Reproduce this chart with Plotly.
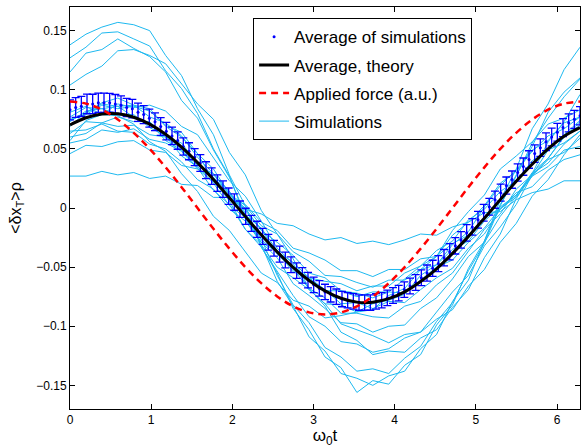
import numpy as np
import plotly.graph_objects as go

# ---------------- data ----------------
t_grid = np.linspace(0, 2 * np.pi, 33)      # sampling of simulations / theory / force
t_avg = np.linspace(0, 2 * np.pi, 91)       # sampling of the averaged simulations

theory = [0.0702, 0.0763, 0.0795, 0.0797, 0.0768, 0.0709, 0.0623, 0.0514, 0.0384, 0.0241, 0.0086,
          -0.0071, -0.0226, -0.0371, -0.0502, -0.0613, -0.0701, -0.0763, -0.0796, -0.0797, -0.0767,
          -0.0709, -0.0622, -0.0514, -0.0384, -0.0240, -0.0086, 0.0071, 0.0226, 0.0370, 0.0500,
          0.0607, 0.0680]

force = [0.0900, 0.0883, 0.0832, 0.0748, 0.0636, 0.0500, 0.0344, 0.0176, 0.0000, -0.0176, -0.0344,
         -0.0500, -0.0636, -0.0748, -0.0832, -0.0883, -0.0900, -0.0883, -0.0832, -0.0748, -0.0636,
         -0.0500, -0.0344, -0.0176, 0.0000, 0.0176, 0.0344, 0.0500, 0.0636, 0.0748, 0.0832, 0.0883,
         0.0900]

avg_sim = [0.083, 0.085, 0.086, 0.088, 0.088, 0.089, 0.089, 0.089, 0.088, 0.087,
           0.085, 0.084, 0.081, 0.079, 0.076, 0.073, 0.069, 0.065, 0.061, 0.057,
           0.052, 0.048, 0.043, 0.038, 0.032, 0.027, 0.021, 0.016, 0.010, 0.005,
           -0.001, -0.007, -0.013, -0.018, -0.024, -0.029, -0.034, -0.039, -0.044, -0.048,
           -0.053, -0.057, -0.061, -0.065, -0.068, -0.071, -0.073, -0.075, -0.077, -0.078,
           -0.079, -0.080, -0.080, -0.080, -0.079, -0.078, -0.076, -0.074, -0.072, -0.069,
           -0.066, -0.063, -0.059, -0.055, -0.051, -0.047, -0.042, -0.037, -0.032, -0.027,
           -0.021, -0.016, -0.010, -0.004, 0.001, 0.007, 0.013, 0.019, 0.024, 0.030,
           0.035, 0.041, 0.046, 0.051, 0.056, 0.060, 0.064, 0.068, 0.072, 0.075, 0.078]

avg_err = [0.0085, 0.0084, 0.0084, 0.0083, 0.0082, 0.0082, 0.0081, 0.0080, 0.0080, 0.0079,
           0.0078, 0.0078, 0.0077, 0.0076, 0.0076, 0.0075, 0.0075, 0.0074, 0.0074, 0.0073,
           0.0073, 0.0072, 0.0072, 0.0071, 0.0071, 0.0070, 0.0070, 0.0070, 0.0069, 0.0069,
           0.0069, 0.0068, 0.0068, 0.0068, 0.0067, 0.0067, 0.0067, 0.0067, 0.0066, 0.0066,
           0.0066, 0.0066, 0.0066, 0.0065, 0.0065, 0.0065, 0.0065, 0.0065, 0.0065, 0.0065,
           0.0065, 0.0065, 0.0065, 0.0065, 0.0065, 0.0065, 0.0066, 0.0066, 0.0066, 0.0066,
           0.0067, 0.0067, 0.0067, 0.0068, 0.0068, 0.0068, 0.0069, 0.0069, 0.0069, 0.0070,
           0.0070, 0.0070, 0.0071, 0.0071, 0.0071, 0.0072, 0.0072, 0.0072, 0.0073, 0.0073,
           0.0073, 0.0074, 0.0074, 0.0074, 0.0075, 0.0075, 0.0075, 0.0076, 0.0076, 0.0076, 0.0077]

sim01 = [0.138, 0.147, 0.153, 0.157, 0.155, 0.150, 0.129, 0.112, 0.084, 0.062, 0.028, 0.002, -0.033,
         -0.055, -0.085, -0.103, -0.126, -0.135, -0.156, -0.146, -0.149, -0.133, -0.124, -0.099, -0.082,
         -0.051, -0.028, 0.007, 0.033, 0.067, 0.088, 0.117, 0.136]
sim02 = [0.127, 0.136, 0.148, 0.149, 0.143, 0.137, 0.116, 0.101, 0.080, 0.050, 0.027, -0.008, -0.031,
         -0.062, -0.083, -0.109, -0.121, -0.140, -0.144, -0.150, -0.142, -0.138, -0.119, -0.107, -0.079,
         -0.061, -0.028, 0.003, 0.027, 0.055, 0.076, 0.094, 0.109]
sim03 = [0.115, 0.131, 0.134, 0.143, 0.135, 0.128, 0.115, 0.091, 0.076, 0.049, 0.026, -0.005, -0.026,
         -0.057, -0.082, -0.097, -0.118, -0.126, -0.138, -0.136, -0.140, -0.127, -0.117, -0.096, -0.080,
         -0.053, -0.030, 0.002, 0.028, 0.052, 0.081, 0.098, 0.110]
sim04 = [0.104, 0.113, 0.120, 0.133, 0.134, 0.129, 0.122, 0.105, 0.088, 0.075, 0.047, 0.028, -0.002,
         -0.022, -0.043, -0.068, -0.083, -0.105, -0.112, -0.124, -0.121, -0.122, -0.110, -0.103, -0.084,
         -0.069, -0.042, -0.022, 0.008, 0.029, 0.056, 0.073, 0.096]
sim05 = [0.074, 0.080, 0.089, 0.093, 0.087, 0.084, 0.069, 0.060, 0.046, 0.023, 0.006, -0.018, -0.033,
         -0.053, -0.074, -0.092, -0.100, -0.113, -0.115, -0.122, -0.119, -0.110, -0.105, -0.088, -0.071,
         -0.057, -0.032, -0.016, 0.003, 0.028, 0.042, 0.061, 0.070]
sim06 = [0.057, 0.074, 0.079, 0.088, 0.085, 0.087, 0.082, 0.069, 0.062, 0.043, 0.023, 0.010, -0.011,
         -0.034, -0.047, -0.069, -0.081, -0.098, -0.103, -0.108, -0.114, -0.107, -0.105, -0.094, -0.086,
         -0.066, -0.052, -0.029, -0.013, 0.010, 0.024, 0.045, 0.062]
sim07 = [0.075, 0.079, 0.087, 0.084, 0.086, 0.082, 0.070, 0.064, 0.046, 0.033, 0.012, -0.002, -0.018,
         -0.039, -0.052, -0.068, -0.076, -0.089, -0.089, -0.092, -0.093, -0.083, -0.079, -0.065, -0.055,
         -0.036, -0.018, -0.005, 0.016, 0.028, 0.049, 0.062, 0.074]
sim08 = [0.077, 0.085, 0.084, 0.086, 0.077, 0.072, 0.057, 0.049, 0.034, 0.015, 0.003, -0.018, -0.031,
         -0.050, -0.059, -0.069, -0.081, -0.082, -0.088, -0.081, -0.078, -0.073, -0.057, -0.048, -0.031,
         -0.020, 0.001, 0.019, 0.032, 0.049, 0.057, 0.072, 0.077]
sim09 = [0.063, 0.073, 0.072, 0.077, 0.073, 0.073, 0.060, 0.055, 0.037, 0.028, 0.014, -0.006, -0.017,
         -0.036, -0.050, -0.059, -0.069, -0.081, -0.080, -0.085, -0.079, -0.080, -0.069, -0.059, -0.051,
         -0.034, -0.022, -0.001, 0.011, 0.029, 0.038, 0.054, 0.065]
sim10 = [0.073, 0.082, 0.084, 0.079, 0.079, 0.068, 0.061, 0.044, 0.035, 0.021, 0.002, -0.008, -0.027,
         -0.037, -0.054, -0.060, -0.070, -0.070, -0.075, -0.071, -0.071, -0.060, -0.049, -0.041, -0.023,
         -0.012, 0.002, 0.021, 0.031, 0.048, 0.061, 0.067, 0.077]
sim11 = [0.060, 0.063, 0.072, 0.069, 0.070, 0.062, 0.060, 0.050, 0.036, 0.029, 0.011, 0.000, -0.019,
         -0.029, -0.040, -0.055, -0.059, -0.070, -0.072, -0.076, -0.071, -0.072, -0.061, -0.050, -0.044,
         -0.029, -0.017, 0.000, 0.009, 0.027, 0.041, 0.047, 0.059]
sim12 = [0.081, 0.086, 0.079, 0.078, 0.071, 0.056, 0.048, 0.029, 0.014, -0.007, -0.019, -0.037, -0.055,
         -0.063, -0.078, -0.083, -0.093, -0.091, -0.088, -0.086, -0.074, -0.068, -0.052, -0.041, -0.019,
         -0.003, 0.011, 0.033, 0.044, 0.056, 0.071, 0.076, 0.083]
sim13 = [0.065, 0.066, 0.071, 0.065, 0.064, 0.054, 0.050, 0.039, 0.024, 0.016, -0.001, -0.011, -0.029,
         -0.037, -0.046, -0.059, -0.062, -0.064, -0.070, -0.066, -0.066, -0.055, -0.049, -0.036, -0.028,
         -0.010, -0.001, 0.014, 0.023, 0.040, 0.049, 0.055, 0.065]
sim14 = [0.069, 0.081, 0.088, 0.086, 0.087, 0.077, 0.072, 0.061, 0.043, 0.029, 0.014, -0.009, -0.029,
         -0.042, -0.064, -0.074, -0.085, -0.097, -0.098, -0.105, -0.100, -0.099, -0.085, -0.076, -0.060,
         -0.041, -0.029, -0.007, 0.010, 0.030, 0.042, 0.060, 0.073]
sim15 = [0.027, 0.027, 0.031, 0.028, 0.030, 0.025, 0.027, 0.020, 0.019, 0.009, 0.009, -0.001, -0.005,
         -0.013, -0.015, -0.022, -0.027, -0.025, -0.030, -0.028, -0.031, -0.027, -0.022, -0.023, -0.016,
         -0.012, -0.004, -0.003, 0.007, 0.013, 0.016, 0.023, 0.023]
sim16 = [0.046, 0.053, 0.052, 0.056, 0.057, 0.049, 0.047, 0.036, 0.033, 0.022, 0.009, 0.003, -0.012,
         -0.019, -0.034, -0.038, -0.044, -0.053, -0.053, -0.058, -0.052, -0.052, -0.043, -0.041, -0.030,
         -0.023, -0.008, -0.001, 0.013, 0.018, 0.032, 0.041, 0.045]
sim17 = [0.055, 0.058, 0.066, 0.064, 0.067, 0.058, 0.055, 0.048, 0.033, 0.026, 0.012, 0.002, -0.015,
         -0.022, -0.037, -0.045, -0.057, -0.058, -0.063, -0.067, -0.061, -0.061, -0.052, -0.048, -0.035,
         -0.028, -0.011, 0.001, 0.011, 0.027, 0.035, 0.049, 0.052]

simulations = [sim01, sim02, sim03, sim04, sim05, sim06, sim07, sim08, sim09, sim10,
               sim11, sim12, sim13, sim14, sim15, sim16, sim17]

x_ticks = [0, 1, 2, 3, 4, 5, 6]
y_ticks = [-0.15, -0.1, -0.05, 0, 0.05, 0.1, 0.15]

# ---------------- figure ----------------
SIM_COLOR = "rgb(30,185,240)"
FONT = "Liberation Sans, Arial, Helvetica, sans-serif"

fig = go.Figure()

for i, s in enumerate(simulations):
    fig.add_trace(go.Scatter(
        x=t_grid, y=s, mode="lines", name="Simulations",
        line=dict(color=SIM_COLOR, width=1),
        legendgroup="sims", showlegend=(i == 0), legendrank=4,
    ))

fig.add_trace(go.Scatter(
    x=t_avg, y=avg_sim, mode="markers", name="Average of simulations",
    marker=dict(color="rgb(0,0,255)", size=3),
    error_y=dict(type="data", array=avg_err, visible=True,
                 color="rgb(0,0,255)", thickness=1.3, width=4),
    legendgroup="avg", legendrank=1,
))

fig.add_trace(go.Scatter(
    x=t_grid, y=theory, mode="lines", name="Average, theory",
    line=dict(color="black", width=3, shape="spline"),
    legendgroup="theory", legendrank=2,
))

fig.add_trace(go.Scatter(
    x=t_grid, y=force, mode="lines", name="Applied force (a.u.)",
    line=dict(color="rgb(255,0,0)", width=2.5, dash="7px,5px", shape="spline"),
    legendgroup="force", legendrank=3,
))

axis_common = dict(
    showline=True, linecolor="black", linewidth=1, mirror="ticks",
    ticks="inside", ticklen=5, tickcolor="black", tickwidth=1,
    showgrid=False, zeroline=False, automargin=False,
    tickfont=dict(family=FONT, size=12, color="black"),
)

fig.update_layout(
    width=581, height=448,
    margin=dict(l=70, r=1, t=7, b=39),
    paper_bgcolor="white", plot_bgcolor="white",
    font=dict(family=FONT, color="black"),
    showlegend=True,
    legend=dict(
        x=0.359, y=0.972, xanchor="left", yanchor="top",
        bgcolor="white", bordercolor="black", borderwidth=1,
        font=dict(family=FONT, size=17, color="black"),
        traceorder="grouped", tracegroupgap=3,
    ),
    xaxis=dict(axis_common, range=[0, 2 * np.pi], tickvals=x_ticks,
               title=dict(text="ω<sub>0</sub>t", font=dict(family=FONT, size=17), standoff=0)),
    yaxis=dict(axis_common, range=[-0.17, 0.17], tickvals=y_ticks,
               title=dict(text="&lt;δx<sub>T</sub>&gt;ρ", font=dict(family=FONT, size=16), standoff=10)),
)

fig.write_html(
    "out.html",
    config={"displayModeBar": False},
    post_script="document.body.style.margin='0';document.body.style.overflow='hidden';",
)
